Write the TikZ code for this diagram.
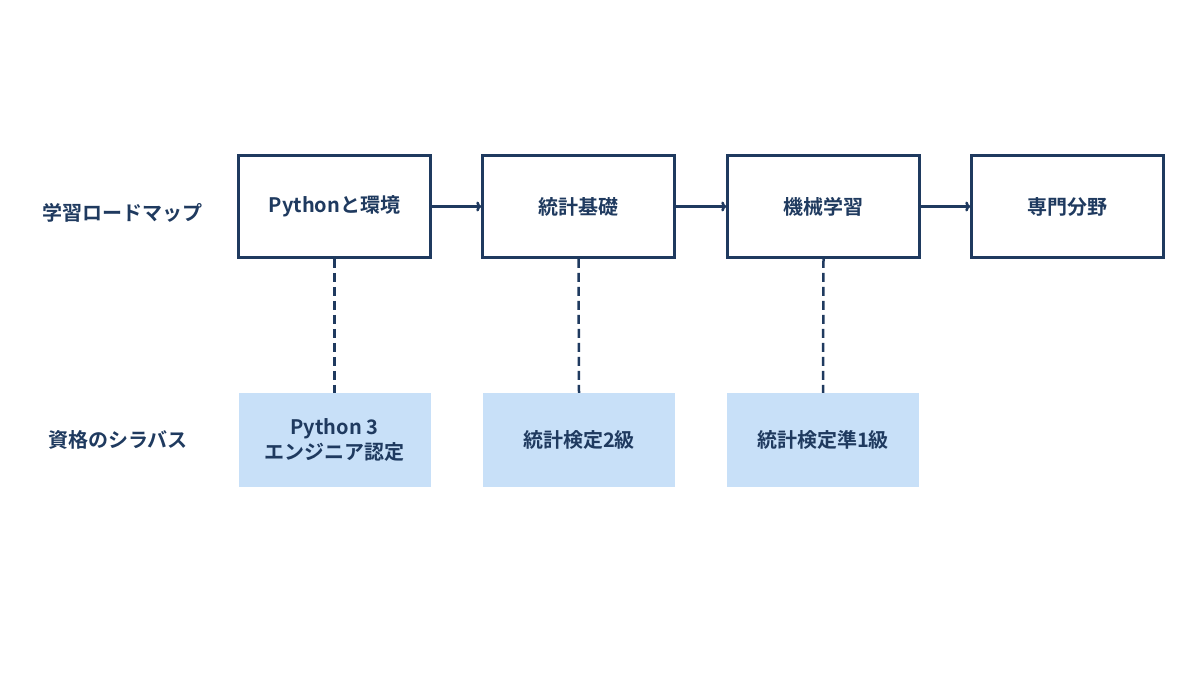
\documentclass[tikz,border=0pt]{standalone}
\usepackage{fontspec}
\setmainfont{Noto Sans CJK JP}[BoldFont={Noto Sans CJK JP Bold}]
\usetikzlibrary{arrows.meta}
\definecolor{navy}{HTML}{1F3A5F}
\definecolor{lblue}{HTML}{C8E0F8}
\begin{document}
\begin{tikzpicture}[x=1pt,y=-1pt,
  stagebox/.style={draw=navy,line width=2.5pt,fill=white,minimum width=192pt,minimum height=102pt,inner sep=0pt,font=\fontsize{20}{24}\selectfont\bfseries,text=navy},
  syl/.style={fill=lblue,minimum width=192pt,minimum height=94pt,inner sep=0pt,align=center,font=\fontsize{20}{25}\selectfont\bfseries,text=navy},
  lab/.style={font=\fontsize{20}{24}\selectfont\bfseries,text=navy},
  arr/.style={draw=navy,line width=2.5pt,-{To[length=5pt,width=10pt]}},
  dashlink/.style={draw=navy,line width=2.5pt,dash pattern=on 9pt off 5pt}]
\useasboundingbox (0,0) rectangle (1200,675);
\node[stagebox] (a) at (334.5,206.5) {Pythonと環境};
\node[stagebox] (b) at (578.5,206.5) {統計基礎};
\node[stagebox] (c) at (823.5,206.5) {機械学習};
\node[stagebox] (d) at (1067.5,206.5) {専門分野};
\node[syl] (s1) at (334.5,440) {Python 3\\エンジニア認定};
\node[syl] (s2) at (579,440) {統計検定2級};
\node[syl] (s3) at (823,440) {統計検定準1級};
\node[lab] (l1) at (122,213) {学習ロードマップ};
\node[lab] (l2) at (118,440) {資格のシラバス};
\draw[arr] (a) -- (b);
\draw[arr] (b) -- (c);
\draw[arr] (c) -- (d);
\draw[dashlink] (a.south) -- (s1.north);
\draw[dashlink] (b.south) -- (s2.north);
\draw[dashlink] (c.south) -- (s3.north);
\end{tikzpicture}
\end{document}
